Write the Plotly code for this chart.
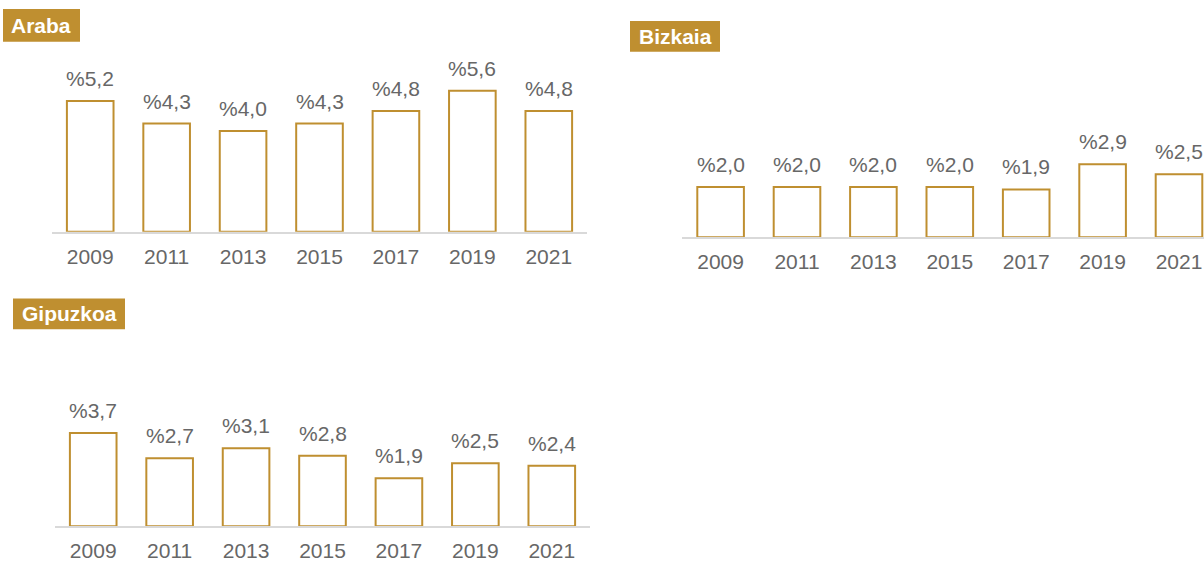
import plotly.graph_objects as go

# ---- data ----
years = ["2009", "2011", "2013", "2015", "2017", "2019", "2021"]
araba = [5.2, 4.3, 4.0, 4.3, 4.8, 5.6, 4.8]
bizkaia = [2.0, 2.0, 2.0, 2.0, 1.9, 2.9, 2.5]
gipuzkoa = [3.7, 2.7, 3.1, 2.8, 1.9, 2.5, 2.4]
titles = ["Araba", "Bizkaia", "Gipuzkoa"]

W, H = 1204, 562
GOLD = "#BF8F30"
GREY_TXT = "#676767"
FONT = "Liberation Sans, Arial, sans-serif"
FS = 21
PX_PER_UNIT = 25.3
YMAX = 8


def px_x(p):
    return p / W


def px_y(p):
    return 1 - p / H


# panel layout in pixels: x domain start/end, baseline y, x range end, title box
panels = [
    dict(x0=52, x1=587, base=233, rmax=6.5, box=(3, 9, 80, 42)),
    dict(x0=682.4, x1=1204, base=238.5, rmax=-0.5 + (1204 - 682.4) / 76.4, box=(630, 21, 720, 52)),
    dict(x0=55, x1=590, base=529, rmax=6.5, box=(13, 300, 125, 331)),
]
series = [araba, bizkaia, gipuzkoa]

fig = go.Figure()
shapes = []
annotations = []

for i, (p, vals, title) in enumerate(zip(panels, series, titles)):
    n = "" if i == 0 else str(i + 1)
    fig.add_trace(go.Bar(
        x=years, y=vals,
        xaxis="x" + n, yaxis="y" + n,
        marker=dict(color="white", line=dict(color=GOLD, width=2)),
        showlegend=False, hoverinfo="skip",
    ))
    top_px = p["base"] - YMAX * PX_PER_UNIT
    fig.update_layout(**{
        "xaxis" + n: dict(
            domain=[px_x(p["x0"]), px_x(p["x1"])],
            anchor="y" + n, type="category",
            range=[-0.5, p["rmax"]],
            showline=True, linecolor="#D9D9D9", linewidth=2,
            ticks="", showgrid=False, zeroline=False,
            tickfont=dict(size=FS, color=GREY_TXT, family=FONT),
            ticklabelstandoff=5,
            fixedrange=True,
        ),
        "yaxis" + n: dict(
            domain=[px_y(p["base"]), px_y(top_px)],
            anchor="x" + n, range=[0, YMAX], visible=False,
            showgrid=False, zeroline=False, fixedrange=True,
        ),
    })
    for j, v in enumerate(vals):
        annotations.append(dict(
            x=j, y=v, xref="x" + n, yref="y" + n,
            text="%" + f"{v:.1f}".replace(".", ","),
            showarrow=False, yanchor="bottom", yshift=9,
            font=dict(size=FS, color=GREY_TXT, family=FONT),
        ))
    bx0, by0, bx1, by1 = p["box"]
    shapes.append(dict(
        type="rect", xref="paper", yref="paper",
        x0=px_x(bx0), x1=px_x(bx1), y0=px_y(by1), y1=px_y(by0),
        fillcolor=GOLD, line=dict(width=0), layer="below",
    ))
    annotations.append(dict(
        x=px_x((bx0 + bx1) / 2), y=px_y((by0 + by1) / 2),
        xref="paper", yref="paper", xanchor="center", yanchor="middle",
        text="<b>" + title + "</b>", showarrow=False,
        font=dict(size=FS, color="white", family=FONT),
    ))

fig.update_layout(
    width=W, height=H,
    margin=dict(l=0, r=0, t=0, b=0),
    paper_bgcolor="white", plot_bgcolor="rgba(0,0,0,0)",
    bargap=0.39,
    shapes=shapes, annotations=annotations,
    font=dict(family=FONT),
)

fig.write_html(
    "out.html",
    config={"displayModeBar": False},
    post_script="document.body.style.margin='0';document.body.style.overflow='hidden';",
)
